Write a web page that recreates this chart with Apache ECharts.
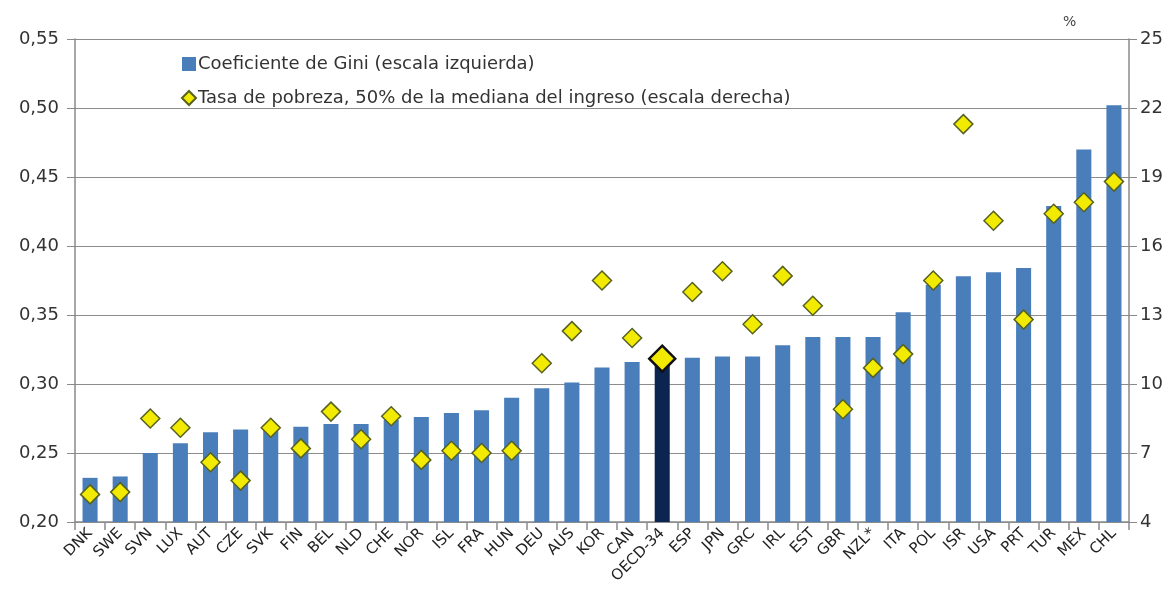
<!DOCTYPE html>
<html>
<head>
<meta charset="utf-8">
<script src="https://cdn.jsdelivr.net/npm/echarts@6/dist/echarts.min.js"></script>
<style>
  html, body { margin: 0; padding: 0; background: #fff; }
  #chart { width: 1174px; height: 607px; }
</style>
</head>
<body>
<div id="chart"></div>
<script>
  // paises (eje x)
  const countries = ['DNK', 'SWE', 'SVN', 'LUX', 'AUT', 'CZE', 'SVK', 'FIN', 'BEL', 'NLD', 'CHE', 'NOR', 'ISL', 'FRA', 'HUN',
    'DEU', 'AUS', 'KOR', 'CAN', 'OECD-34', 'ESP', 'JPN', 'GRC', 'IRL', 'EST', 'GBR', 'NZL*', 'ITA', 'POL', 'ISR', 'USA',
    'PRT', 'TUR', 'MEX', 'CHL']
  // coeficiente de Gini (escala izquierda)
  const gini = [0.232, 0.233, 0.250, 0.257, 0.265, 0.267, 0.268, 0.269, 0.271, 0.271, 0.274, 0.276, 0.279, 0.281, 0.290,
    0.297, 0.301, 0.312, 0.316, 0.317, 0.319, 0.320, 0.320, 0.328, 0.334, 0.334, 0.334, 0.352, 0.372, 0.378, 0.381,
    0.384, 0.429, 0.470, 0.502]
  // tasa de pobreza % (escala derecha)
  const poverty = [5.2, 5.3, 8.5, 8.1, 6.6, 5.8, 8.1, 7.2, 8.8, 7.6, 8.6, 6.7, 7.1, 7.0, 7.1,
    10.9, 12.3, 14.5, 12.0, 11.1, 14.0, 14.9, 12.6, 14.7, 13.4, 8.9, 10.7, 11.3, 14.5, 21.3, 17.1,
    12.8, 17.4, 17.9, 18.8]
  const leftTicks = { min: 0.20, max: 0.55, step: 0.05 }
  const rightTicks = { min: 4, max: 25, step: 3 }

  const highlight = 'OECD-34'
  const font = 'DejaVu Sans'

  const myChart = echarts.init(document.getElementById('chart'))

  const barData = gini.map((v, i) => {
    if (countries[i] === highlight) {
      return { value: v, itemStyle: { color: '#0c2550' } }
    }
    return v
  })
  const dotData = poverty.map((v, i) => {
    if (countries[i] === highlight) {
      return { value: v, symbolSize: 26, itemStyle: { borderColor: '#111', borderWidth: 2.5 } }
    }
    return v
  })

  const option = {
    animation: false,
    textStyle: { fontFamily: font },
    grid: { left: 75, right: 45, top: 39, bottom: 85 },
    legend: {
      orient: 'vertical',
      left: 176,
      top: 50,
      itemWidth: 14,
      itemHeight: 14,
      itemGap: 16,
      textStyle: { fontSize: 18, color: '#333', fontFamily: font, padding: [0, 0, 0, -3] },
      data: [
        { name: 'Coeficiente de Gini (escala izquierda)', icon: 'rect' },
        { name: 'Tasa de pobreza, 50% de la mediana del ingreso (escala derecha)', icon: 'diamond' }
      ]
    },
    graphic: [{
      type: 'text',
      left: 1063,
      top: 15,
      style: { text: '%', fontSize: 14, fill: '#444', fontFamily: font }
    }],
    xAxis: {
      type: 'category',
      data: countries,
      axisLine: { lineStyle: { color: '#8a8a8a', width: 1.5 } },
      axisTick: { show: true, length: 8, lineStyle: { color: '#8a8a8a', width: 1.5 } },
      axisLabel: { rotate: 45, fontSize: 15, color: '#222', margin: 9, interval: 0 }
    },
    yAxis: [
      {
        type: 'value',
        min: leftTicks.min,
        max: leftTicks.max,
        interval: leftTicks.step,
        axisLine: { show: true, lineStyle: { color: '#8a8a8a', width: 1.5 } },
        axisTick: { show: true, length: 8, lineStyle: { color: '#8a8a8a' } },
        axisLabel: {
          fontSize: 18, color: '#333', margin: 16,
          formatter: v => v.toFixed(2).replace('.', ',')
        },
        splitLine: { lineStyle: { color: '#8c8c8c', width: 1.2 } }
      },
      {
        type: 'value',
        min: rightTicks.min,
        max: rightTicks.max,
        interval: rightTicks.step,
        axisLine: { show: true, lineStyle: { color: '#8a8a8a', width: 1.5 } },
        axisTick: { show: true, length: 8, lineStyle: { color: '#8a8a8a' } },
        axisLabel: { fontSize: 18, color: '#333', margin: 11 },
        splitLine: { show: false }
      }
    ],
    series: [
      {
        name: 'Coeficiente de Gini (escala izquierda)',
        type: 'bar',
        yAxisIndex: 0,
        barWidth: '50%',
        itemStyle: { color: '#4a7ebb' },
        data: barData
      },
      {
        name: 'Tasa de pobreza, 50% de la mediana del ingreso (escala derecha)',
        type: 'scatter',
        yAxisIndex: 1,
        symbol: 'diamond',
        symbolSize: 19,
        itemStyle: { color: '#f2ea00', borderColor: '#56621e', borderWidth: 1.5, opacity: 1 },
        z: 5,
        data: dotData
      }
    ]
  }

  myChart.setOption(option)
</script>
</body>
</html>
